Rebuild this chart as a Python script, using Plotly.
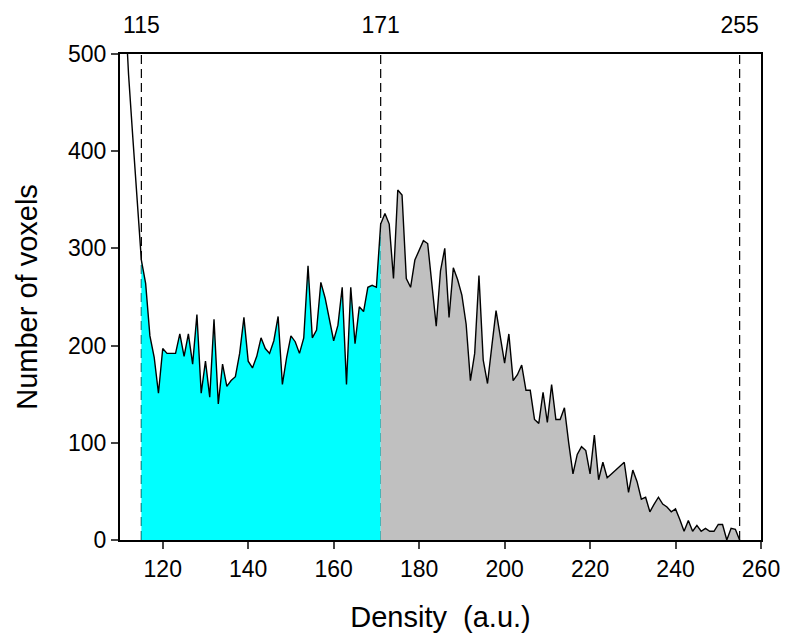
import plotly.graph_objects as go

# Density bins (a.u.), one per integer value
density = list(range(110, 256))

# Number of voxels per density bin
counts_110_129 = [650, 560, 479, 414, 349, 288, 264, 210, 188, 151,
                  197, 192, 192, 192, 212, 189, 212, 181, 232, 151]
counts_130_149 = [184, 147, 227, 140, 181, 158, 164, 168, 192, 229,
                  184, 177, 189, 208, 197, 192, 205, 230, 160, 188]
counts_150_169 = [210, 204, 192, 208, 282, 208, 216, 265, 249, 226,
                  205, 221, 260, 160, 260, 202, 240, 235, 260, 262]
counts_170_189 = [260, 325, 336, 325, 269, 360, 355, 269, 260, 288,
                  298, 308, 305, 262, 220, 277, 300, 229, 280, 268]
counts_190_209 = [252, 222, 164, 192, 272, 185, 161, 199, 236, 209,
                  182, 212, 164, 170, 180, 154, 154, 124, 120, 152]
counts_210_229 = [121, 160, 124, 124, 136, 100, 68, 88, 96, 92,
                  68, 108, 62, 80, 64, 68, 72, 76, 80, 49]
counts_230_255 = [72, 60, 42, 44, 29, 37, 44, 37, 34, 29,
                  32, 21, 9, 20, 9, 15, 9, 12, 9, 9,
                  16, 16, 0, 12, 11, 0]
counts = (counts_110_129 + counts_130_149 + counts_150_169 + counts_170_189
          + counts_190_209 + counts_210_229 + counts_230_255)

# Thresholds marked on the top axis
thresholds = [115, 171, 255]
x_ticks = [120, 140, 160, 180, 200, 220, 240, 260]
y_ticks = [0, 100, 200, 300, 400, 500]

FONT = "Liberation Sans, Arial, sans-serif"

def segment(lo, hi):
    xs = [d for d in density if lo <= d <= hi]
    ys = [c for d, c in zip(density, counts) if lo <= d <= hi]
    return xs, ys

fig = go.Figure()

cx, cy = segment(thresholds[0], thresholds[1])
fig.add_trace(go.Scatter(x=cx, y=cy, mode="lines", fill="tozeroy",
                         fillcolor="#00FFFF", line=dict(width=0),
                         hoverinfo="skip", showlegend=False))
gx, gy = segment(thresholds[1], thresholds[2])
fig.add_trace(go.Scatter(x=gx, y=gy, mode="lines", fill="tozeroy",
                         fillcolor="#C0C0C0", line=dict(width=0),
                         hoverinfo="skip", showlegend=False))
fig.add_trace(go.Scatter(x=density, y=counts, mode="lines",
                         line=dict(color="black", width=1.4),
                         showlegend=False))

# invisible trace to activate the top axis
fig.add_trace(go.Scatter(x=thresholds, y=[0, 0, 0], xaxis="x2", mode="markers",
                         marker=dict(opacity=0), showlegend=False,
                         hoverinfo="skip"))

for t in thresholds:
    fig.add_shape(type="line", xref="x", yref="y", x0=t, x1=t, y0=0, y1=500,
                  line=dict(color="black", width=1.2, dash="9px,5px"),
                  layer="below")

fig.update_layout(
    width=792, height=642,
    margin=dict(l=120, r=22, t=54, b=102),
    paper_bgcolor="white", plot_bgcolor="white",
    font=dict(family=FONT, color="black"),
    xaxis=dict(range=[110, 260], tickvals=x_ticks, ticks="outside",
               ticklen=7, tickwidth=2, showline=True, linewidth=2,
               linecolor="black", mirror=True, showgrid=False, zeroline=False,
               tickfont=dict(size=23),
               title=dict(text="Density  (a.u.)", font=dict(size=29),
                          standoff=26)),
    xaxis2=dict(range=[110, 260], overlaying="x", side="top",
                tickvals=thresholds, ticks="outside", ticklen=11,
                tickcolor="rgba(0,0,0,0)", showline=False,
                showgrid=False, zeroline=False, tickfont=dict(size=23)),
    yaxis=dict(range=[0, 500], tickvals=y_ticks, ticks="outside",
               ticklen=7, tickwidth=2, showline=True, linewidth=2,
               linecolor="black", mirror=True, showgrid=False, zeroline=False,
               tickfont=dict(size=23),
               title=dict(text="Number of voxels", font=dict(size=29),
                          standoff=22)),
)

fig.write_html("out.html")
